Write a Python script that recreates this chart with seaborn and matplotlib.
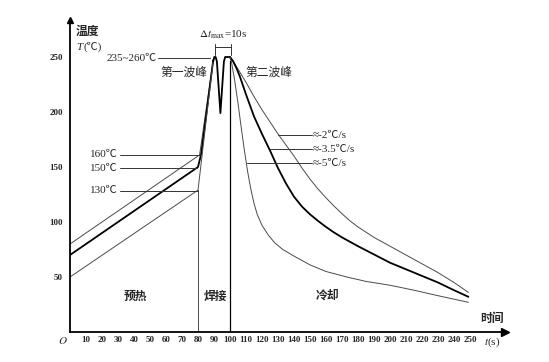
import numpy as np
import matplotlib
matplotlib.use('Agg')
import matplotlib.pyplot as plt
import seaborn as sns
import pandas as pd

# preheat ramps (time s, temperature C)
upper_t = [0, 81, 89.5]
upper_T = [80, 161, 247]
mid_t = [0, 80, 82, 89.5]
mid_T = [70, 150, 162, 247]
lower_t = [0, 80, 82.5, 89.5]
lower_T = [50, 129, 160, 247]

# double wave
wave_t = [89.5, 90.2, 91.0, 91.8, 94.0, 96.2, 97.0, 97.8, 100.0, 101.0]
wave_T = [246, 250, 250, 246, 199, 246, 250, 250, 250, 247]

# cooling curves
cool2_t = [100, 102, 105, 110, 115, 120, 125, 130, 135, 140, 145, 150, 155, 160,
           165, 170, 175, 180, 190, 200, 210, 220, 230, 240, 249]
cool2_T = [250, 246, 239, 227, 214, 202, 191, 180, 170, 160, 149, 139, 130, 122,
           114.5, 107.5, 101, 95.5, 86, 78, 70, 62, 54, 45, 36]
cool35_t = [100, 102, 104, 106, 110, 115, 120, 125, 130, 135, 140, 145, 150, 155,
            160, 165, 170, 180, 190, 200, 210, 220, 230, 240, 249]
cool35_T = [250, 246, 240, 233, 216, 196, 180, 165, 149, 135, 123, 114, 107, 101,
            95.5, 90.5, 86, 78, 70.5, 63, 57, 51, 45, 38, 32]
cool5_t = [100, 101, 103, 105, 107, 109, 111, 113, 115, 117, 120, 124, 128, 133,
           140, 150, 160, 173, 185, 200, 215, 230, 249]
cool5_T = [250, 245, 228, 208, 186, 165, 146, 130, 117, 107, 97, 88, 81, 75,
           69, 61, 55, 50, 46, 42.5, 38, 33, 27]

x_ticks = list(range(10, 260, 10))
y_ticks = [50, 100, 150, 200, 250]

sns.set_style('white')
plt.rcParams['font.family'] = ['Liberation Serif', 'Noto Sans CJK SC']
plt.rcParams['mathtext.fontset'] = 'stix'

fig = plt.figure(figsize=(5.49, 3.62), dpi=100)
ax = fig.add_axes([70 / 549, 30 / 362, 435 / 549, 312 / 362])

thin = '#4a4a4a'
curves = [
    (upper_t, upper_T, thin, 0.7),
    (mid_t, mid_T, 'black', 1.3),
    (lower_t, lower_T, thin, 0.7),
    (wave_t, wave_T, 'black', 1.3),
    (cool2_t, cool2_T, thin, 0.7),
    (cool35_t, cool35_T, 'black', 1.3),
    (cool5_t, cool5_T, thin, 0.7),
]
for xs, ys, c, lw in curves:
    df = pd.DataFrame({'t': xs, 'T': ys})
    sns.lineplot(data=df, x='t', y='T', ax=ax, color=c, lw=lw,
                 sort=False, estimator=None)

# phase separators
ax.plot([80, 80], [0, 129], color=thin, lw=0.7)
ax.plot([100, 100], [0, 246], color='black', lw=0.9)

ax.set_xlim(0, 435 / 1.6)
ax.set_ylim(0, 312 / 1.1)
ax.set_xlabel('')
ax.set_ylabel('')
for s in ['top', 'right']:
    ax.spines[s].set_visible(False)
for s in ['left', 'bottom']:
    ax.spines[s].set_linewidth(1.3)
    ax.spines[s].set_color('black')
ax.plot(1, 0, marker='>', color='black', ms=6, transform=ax.transAxes, clip_on=False)
ax.plot(0, 1, marker='^', color='black', ms=5, transform=ax.transAxes, clip_on=False)

ax.set_xticks(x_ticks)
ax.set_yticks(y_ticks)
ax.tick_params(direction='in', length=3, width=0.8, labelsize=6.5, pad=3)
ax.tick_params(axis='y', pad=5)
for lab in ax.get_xticklabels() + ax.get_yticklabels():
    lab.set_fontweight('bold')

# leaders and labels
lc = '#333333'
ax.plot([55, 87.5], [249, 249], color=lc, lw=0.7)
ax.text(54.4, 249, '235~260℃', ha='right', va='center', fontsize=8)
ax.text(71, 236, '第一波峰', ha='center', va='center', fontsize=8.5)
ax.text(124.4, 236, '第二波峰', ha='center', va='center', fontsize=8.5)

ax.text(95.6, 270, r'$\Delta t_{\rm max}$=10s', ha='center', va='center', fontsize=8)
ax.plot([90.6, 100.6], [259, 259], color=lc, lw=0.7)
ax.plot([90.6, 90.6], [252, 262], color=lc, lw=0.7)
ax.plot([100.6, 100.6], [252, 262], color=lc, lw=0.7)

for T, t_end, lab in [(161, 81, '160℃'), (149, 79.5, '150℃'), (128.5, 80, '130℃')]:
    ax.plot([31, t_end], [T, T], color=lc, lw=0.7)
    ax.text(30, T, lab, ha='right', va='center', fontsize=8)

for T, t_start, lab in [(179, 130, '≈-2℃/s'), (166, 125, '≈-3.5℃/s'), (153.5, 110.6, '≈-5℃/s')]:
    ax.plot([t_start, 151], [T, T], color=lc, lw=0.7)
    ax.text(151.5, T, lab, ha='left', va='center', fontsize=8)

ax.text(3.75, 272.7, '温度', ha='left', va='center', fontsize=8.5, fontweight='bold')
ax.text(3.75, 259, 'T', ha='left', va='center', fontsize=8, style='italic')
ax.text(8.5, 259, '(℃)', ha='left', va='center', fontsize=8)
ax.text(40.6, 32, '预热', ha='center', va='center', fontsize=8.5, fontweight='bold')
ax.text(91, 32, '焊接', ha='center', va='center', fontsize=8.5, fontweight='bold')
ax.text(161, 33, '冷却', ha='center', va='center', fontsize=8.5, fontweight='bold')
ax.text(264, 11.8, '时间', ha='center', va='center', fontsize=8.5, fontweight='bold')
ax.text(264, -9, r'$t$(s)', ha='center', va='center', fontsize=8, clip_on=False)
ax.text(-4.4, -7.3, r'$O$', ha='center', va='center', fontsize=8, clip_on=False)

fig.savefig('out.png', dpi=100)
